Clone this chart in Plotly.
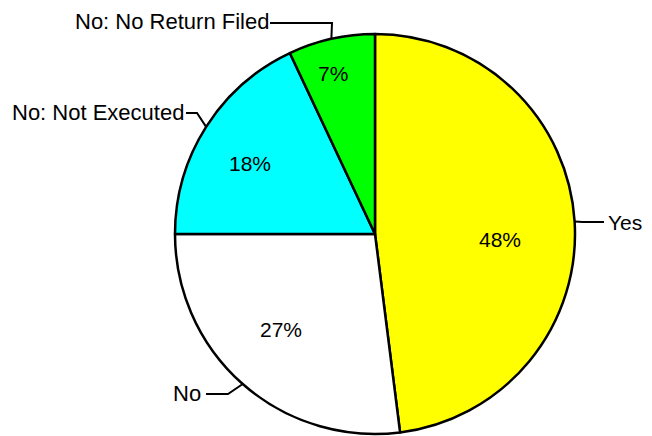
import math
import plotly.graph_objects as go

labels = ["Yes", "No", "No: Not Executed", "No: No Return Filed"]
values = [48, 27, 18, 7]
colors = ["#FFFF00", "#FFFFFF", "#00FFFF", "#00FF00"]

# page body has an 8px margin; figure drawn in remaining area
OFF = 8
W, H = 652 - OFF, 436 - OFF
CX, CY, R = 375, 234, 200   # pie centre/radius in window pixels
FONT = "Liberation Sans, Arial, sans-serif"
FS = 22

def px(x, y):
    return (x - OFF) / W, 1 - (y - OFF) / H

x0, _ = px(CX - R, 0)
x1, _ = px(CX + R, 0)
_, y0 = px(0, CY + R)
_, y1 = px(0, CY - R)

fig = go.Figure(go.Pie(
    labels=labels, values=values, sort=False, direction="clockwise", rotation=0,
    marker=dict(colors=colors, line=dict(color="black", width=2.5)),
    textinfo="none", hoverinfo="label+percent", showlegend=False,
    domain=dict(x=[x0, x1], y=[y0, y1]),
))

total = sum(values)
cum = 0
mids = []
for v in values:
    mids.append((cum + v / 2) / total * 2 * math.pi)
    cum += v
edge = [(CX + R * math.sin(a), CY - R * math.cos(a)) for a in mids]

# percent labels inside slices (radial fraction, angle tweak in degrees)
pct_place = [(0.625, 6), (0.67, 3), (0.72, -3), (0.83, -2)]
annotations = []
for i, (rf, da) in enumerate(pct_place):
    a = mids[i] + math.radians(da)
    tx, ty = px(CX + R * rf * math.sin(a), CY - R * rf * math.cos(a))
    annotations.append(dict(x=tx, y=ty, xref="paper", yref="paper", text=f"{values[i]}%",
                            showarrow=False, xanchor="center", yanchor="middle",
                            font=dict(family=FONT, size=FS - 1, color="black")))

leaders = [
    # (elbow, end, text anchor, xanchor, font size)
    ((edge[0][0] + 8, 222), (604, 222), (606, 222), "left", FS - 1),
    ((228, 394), (206, 394), (203, 393), "right", FS),
    ((197, 113), (186, 113), (186, 113), "right", FS),
    ((332, 23), (270, 23), (271, 21), "right", FS),
]

shapes = []
for i, (elbow, end, tpos, xa, fs) in enumerate(leaders):
    pts = [edge[i], elbow, end]
    path = "M " + " L ".join(f"{px(x, y)[0]},{px(x, y)[1]}" for x, y in pts)
    shapes.append(dict(type="path", path=path, xref="paper", yref="paper",
                       line=dict(color="black", width=2)))
    tx, ty = px(*tpos)
    annotations.append(dict(x=tx, y=ty, xref="paper", yref="paper", text=labels[i],
                            showarrow=False, xanchor=xa, yanchor="middle",
                            font=dict(family=FONT, size=fs, color="black")))

fig.update_layout(
    width=W, height=H, margin=dict(l=0, r=0, t=0, b=0),
    paper_bgcolor="white", plot_bgcolor="white",
    shapes=shapes, annotations=annotations,
)

fig.write_html("out.html")
